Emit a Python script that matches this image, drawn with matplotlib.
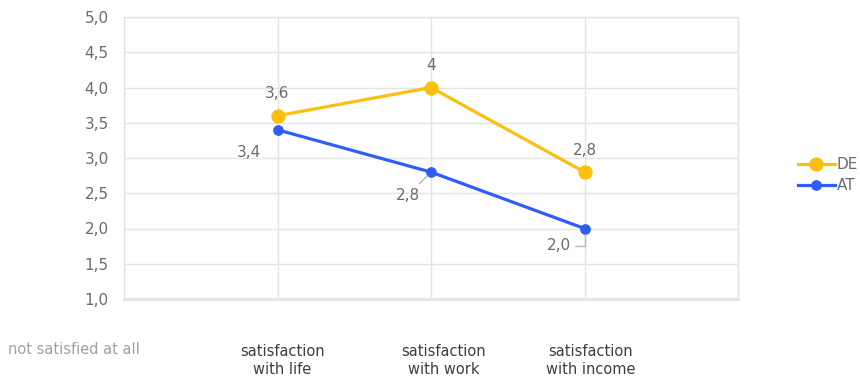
import matplotlib
matplotlib.use("Agg")
import matplotlib.pyplot as plt

# Survey results: mean satisfaction scores (scale 1-5)
categories = ["satisfaction\nwith life", "satisfaction\nwith work", "satisfaction\nwith income"]
de_values = [3.6, 4.0, 2.8]
at_values = [3.4, 2.8, 2.0]
de_labels = ["3,6", "4", "2,8"]
at_labels = ["3,4", "2,8", "2,0"]
y_ticks = [1.0, 1.5, 2.0, 2.5, 3.0, 3.5, 4.0, 4.5, 5.0]
y_tick_labels = ["1,0", "1,5", "2,0", "2,5", "3,0", "3,5", "4,0", "4,5", "5,0"]
low_anchor_label = "not satisfied at all"

DE_COLOR = "#FBBF10"
AT_COLOR = "#2F5EF6"
TEXT_GRAY = "#6b6b6b"
GRID = "#e4e4e4"

plt.rcParams["font.family"] = ["DejaVu Sans"]

fig = plt.figure(figsize=(8.6, 3.78), dpi=100)
ax = fig.add_axes([124 / 860, 1 - 299 / 378, (738 - 124) / 860, (299 - 17) / 378])

x = list(range(1, len(categories) + 1))

ax.plot(x, de_values, color=DE_COLOR, lw=2.3, marker="o", ms=9.3, label="DE", zorder=3)
ax.plot(x, at_values, color=AT_COLOR, lw=2.3, marker="o", ms=6.7, label="AT", zorder=3)

ax.set_xlim(0, len(categories) + 1)
ax.set_ylim(1.0, 5.0)
ax.set_yticks(y_ticks)
ax.set_yticklabels(y_tick_labels, color=TEXT_GRAY, fontsize=11)
ax.set_xticks(range(0, len(categories) + 2))
ax.set_xticklabels([])
ax.tick_params(length=0, pad=11)
ax.grid(True, color=GRID, lw=1)
ax.set_axisbelow(True)
for side, sp in ax.spines.items():
    sp.set_color(GRID)
    sp.set_linewidth(1)
ax.spines["bottom"].set_linewidth(2)

label_kw = dict(textcoords="offset pixels", ha="center", va="center",
                color=TEXT_GRAY, fontsize=11)
leader = dict(arrowstyle="-", color="#b5b5b5", lw=1, shrinkA=1, shrinkB=4)

# value labels for DE: above the markers
for xi, v, lab in zip(x, de_values, de_labels):
    ax.annotate(lab, (xi, v), xytext=(0, 22), **label_kw)

# value labels for AT: below-left of the markers, some with leader lines
ax.annotate(at_labels[0], (x[0], at_values[0]), xytext=(-29, -23), **label_kw)
ax.annotate(at_labels[1], (x[1], at_values[1]), xytext=(-23, -23), arrowprops=leader, **label_kw)
ax.annotate(at_labels[2], (x[2], at_values[2]), xytext=(-26, -17),
            arrowprops=dict(leader, connectionstyle="angle,angleA=0,angleB=90,rad=0"),
            **label_kw)

# category labels under the plot
x_nudge = [5, 13, 6]
for xi, cat, dx in zip(x, categories, x_nudge):
    ax.annotate(cat, (xi, 1.0), xytext=(dx, -61), textcoords="offset pixels",
                ha="center", va="center", color="#3e3e3e", fontsize=10.5,
                annotation_clip=False, linespacing=1.25)

fig.text(8 / 860, 1 - 350 / 378, low_anchor_label, ha="left", va="center",
         color="#a0a0a0", fontsize=10.5)

fig.legend(loc="center left", bbox_to_anchor=(798 / 860, 1 - 175 / 378), frameon=False,
           fontsize=11, handlelength=2.4, handletextpad=0.15, labelspacing=0.4,
           labelcolor=TEXT_GRAY, borderaxespad=0, borderpad=0)

fig.savefig("out.png", dpi=100)
